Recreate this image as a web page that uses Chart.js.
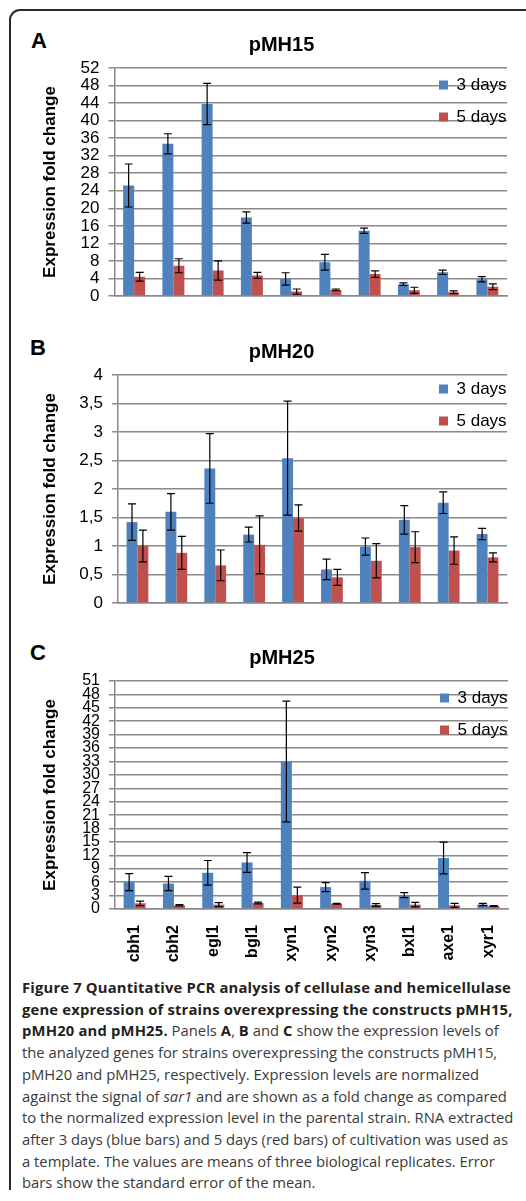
<!DOCTYPE html>
<html>
<head>
<meta charset="utf-8">
<script src="https://cdn.jsdelivr.net/npm/chart.js@4.4.1/dist/chart.umd.min.js"></script>
<style>
  html, body { margin: 0; padding: 0; background: #fff; }
  #page { position: relative; width: 526px; height: 1201px; overflow: hidden; font-family: "Liberation Sans", Arial, sans-serif; }
  #frame { position: absolute; left: 9px; top: 9px; width: 560px; height: 1181px; box-sizing: border-box;
           border: 2px solid #2a2a2a; border-bottom: none; border-radius: 11px 11px 0 0; }
  .panel { position: absolute; font-weight: bold; font-size: 22px; line-height: 22px; color: #000; }
  canvas { position: absolute; left: 0; }
  #caption { position: absolute; left: 22px; top: 977px; font-family: "Open Sans", sans-serif; font-size: 14.8px;
             line-height: 21.7px; color: #3a3a3a; white-space: nowrap; }
  #caption b { color: #231f20; font-weight: bold; letter-spacing: 0.17px; }
</style>
</head>
<body>
<div id="page">
  <div id="frame"></div>
  <div class="panel" style="left:31px;top:30px">A</div>
  <div class="panel" style="left:30px;top:337px">B</div>
  <div class="panel" style="left:30px;top:642px">C</div>
  <canvas id="chartA" width="526" height="287" style="top:33px"></canvas>
  <canvas id="chartB" width="526" height="287" style="top:340px"></canvas>
  <canvas id="chartC" width="526" height="323" style="top:646px"></canvas>
  <div id="caption">
    <div><b>Figure 7 Quantitative PCR analysis of cellulase and hemicellulase</b></div>
    <div><b>gene expression of strains overexpressing the constructs pMH15,</b></div>
    <div><b>pMH20 and pMH25.</b> Panels <b>A</b>, <b>B</b> and <b>C</b> show the expression levels of</div>
    <div>the analyzed genes for strains overexpressing the constructs pMH15,</div>
    <div>pMH20 and pMH25, respectively. Expression levels are normalized</div>
    <div>against the signal of <i>sar1</i> and are shown as a fold change as compared</div>
    <div>to the normalized expression level in the parental strain. RNA extracted</div>
    <div>after 3 days (blue bars) and 5 days (red bars) of cultivation was used as</div>
    <div>a template. The values are means of three biological replicates. Error</div>
    <div>bars show the standard error of the mean.</div>
  </div>
</div>
<script>
const genes = ['cbh1', 'cbh2', 'egl1', 'bgl1', 'xyn1', 'xyn2', 'xyn3', 'bxl1', 'axe1', 'xyr1'];
const seriesNames = ['3 days', '5 days'];

// pMH15 (panel A)
const pMH15_3d = [25.2, 34.7, 43.8, 17.9, 3.9, 7.7, 14.9, 2.7, 5.4, 3.8];
const pMH15_3d_err = [4.9, 2.3, 4.7, 1.3, 1.4, 1.8, 0.6, 0.3, 0.5, 0.6];
const pMH15_5d = [4.4, 6.9, 5.8, 4.7, 1.0, 1.4, 5.0, 1.3, 0.85, 2.1];
const pMH15_5d_err = [1.0, 1.6, 2.2, 0.7, 0.6, 0.2, 0.75, 0.7, 0.3, 0.65];

// pMH20 (panel B)
const pMH20_3d = [1.42, 1.60, 2.36, 1.20, 2.54, 0.59, 0.99, 1.46, 1.76, 1.21];
const pMH20_3d_err = [0.32, 0.32, 0.61, 0.13, 1.0, 0.18, 0.15, 0.25, 0.19, 0.10];
const pMH20_5d = [1.0, 0.88, 0.66, 1.02, 1.49, 0.45, 0.74, 0.98, 0.92, 0.80];
const pMH20_5d_err = [0.28, 0.29, 0.27, 0.51, 0.23, 0.14, 0.30, 0.27, 0.24, 0.08];

// pMH25 (panel C)
const pMH25_3d = [6.0, 5.7, 8.1, 10.4, 33.0, 4.9, 6.3, 3.1, 11.4, 1.0];
const pMH25_3d_err = [1.9, 1.6, 2.75, 2.2, 13.5, 1.0, 1.85, 0.56, 3.55, 0.25];
const pMH25_5d = [1.27, 0.82, 0.97, 1.34, 3.1, 1.19, 0.9, 0.97, 0.82, 0.67];
const pMH25_5d_err = [0.5, 0.15, 0.45, 0.2, 1.8, 0.1, 0.3, 0.5, 0.45, 0.08];

// y tick labels
const ticksA = ['0', '4', '8', '12', '16', '20', '24', '28', '32', '36', '40', '44', '48', '52'];
const ticksB = ['0', '0,5', '1', '1,5', '2', '2,5', '3', '3,5', '4'];
const ticksC = ['0', '3', '6', '9', '12', '15', '18', '21', '24', '27', '30', '33', '36', '39', '42', '45', '48', '51'];

const BLUE = '#4f81bd';
const RED = '#c0504d';
const GRID = '#8a8a8a';

Chart.defaults.font.family = '"Liberation Sans", Arial, sans-serif';
Chart.defaults.color = '#000';

const num = s => parseFloat(s.replace(',', '.'));

// draws the error bars on top of every bar
const errorBars = {
  id: 'errorBars',
  afterDatasetsDraw(chart) {
    const ctx = chart.ctx;
    const y = chart.scales.y;
    ctx.save();
    ctx.strokeStyle = '#000';
    ctx.lineWidth = 1.2;
    chart.data.datasets.forEach((ds, i) => {
      chart.getDatasetMeta(i).data.forEach((bar, j) => {
        const v = ds.data[j], e = ds.errors[j];
        const top = y.getPixelForValue(v + e);
        const bot = y.getPixelForValue(Math.max(v - e, 0));
        const x = bar.x;
        ctx.beginPath();
        ctx.moveTo(x, top); ctx.lineTo(x, bot);
        ctx.moveTo(x - 4, top); ctx.lineTo(x + 4, top);
        ctx.moveTo(x - 4, bot); ctx.lineTo(x + 4, bot);
        ctx.stroke();
      });
    });
    ctx.restore();
  }
};

// moves the legend into the top right corner of the plot area
const legendInside = {
  id: 'legendInside',
  beforeDraw(chart, args, opts) {
    const lg = chart.legend, a = chart.chartArea;
    lg.left = a.right - opts.fromRight;
    lg.top = a.top + opts.fromTop;
    lg.right = lg.left + lg.width;
    lg.bottom = lg.top + lg.height;
  }
};

function makeChart(id, title, d3, e3, d5, e5, tickLabels, opt) {
  const step = num(tickLabels[1]);
  const max = num(tickLabels[tickLabels.length - 1]);
  return new Chart(document.getElementById(id), {
    type: 'bar',
    data: {
      labels: genes,
      datasets: [
        { label: seriesNames[0], data: d3, errors: e3, backgroundColor: BLUE, borderWidth: 0,
          categoryPercentage: 0.56, barPercentage: 1 },
        { label: seriesNames[1], data: d5, errors: e5, backgroundColor: RED, borderWidth: 0,
          categoryPercentage: 0.56, barPercentage: 1 }
      ]
    },
    options: {
      responsive: false,
      animation: false,
      devicePixelRatio: 1,
      layout: { padding: { left: 56, right: opt.padRight, top: 0, bottom: 0 } },
      plugins: {
        title: { display: true, text: title, color: '#000', font: { size: 20, weight: 'bold' },
                 padding: { top: 0, bottom: 11 } },
        legend: {
          position: 'chartArea',
          align: 'start',
          labels: { boxWidth: 9, boxHeight: 9, padding: 15, color: '#000', font: { size: 17 } }
        },
        legendInside: { fromRight: 83, fromTop: opt.legendTop },
        tooltip: { enabled: false }
      },
      scales: {
        x: {
          grid: { display: false, drawTicks: false },
          border: { color: GRID, width: 1.5 },
          ticks: { display: opt.showX, minRotation: 90, maxRotation: 90, padding: 16, color: '#000',
                   font: { size: 16, weight: 'bold' } },
          afterFit: s => { s.height = opt.xHeight; }
        },
        y: {
          min: 0, max: max,
          ticks: { stepSize: step, autoSkip: false, padding: 9, color: '#000', font: { size: opt.tickSize },
                   callback: (v, i) => tickLabels[i] },
          grid: { color: GRID, lineWidth: 1.5, tickLength: 6 },
          border: { color: GRID, width: 1.5 },
          title: { display: true, text: 'Expression fold change', color: '#000',
                   font: { size: 17, weight: 'bold' }, padding: { top: -16, bottom: 0 } },
          afterFit: s => { s.width = opt.axisWidth; }
        }
      }
    },
    plugins: [errorBars, legendInside]
  });
}

makeChart('chartA', 'pMH15', pMH15_3d, pMH15_3d_err, pMH15_5d, pMH15_5d_err, ticksA,
  { axisWidth: 58.5, padRight: 19, legendTop: -6.5, showX: false, xHeight: 24, tickSize: 17 });
makeChart('chartB', 'pMH20', pMH20_3d, pMH20_3d_err, pMH20_5d, pMH20_5d_err, ticksB,
  { axisWidth: 62, padRight: 19, legendTop: -9.5, showX: false, xHeight: 24, tickSize: 17 });
makeChart('chartC', 'pMH25', pMH25_3d, pMH25_3d_err, pMH25_5d, pMH25_5d_err, ticksC,
  { axisWidth: 59, padRight: 18, legendTop: -6.5, showX: true, xHeight: 60, tickSize: 16 });
</script>
</body>
</html>
